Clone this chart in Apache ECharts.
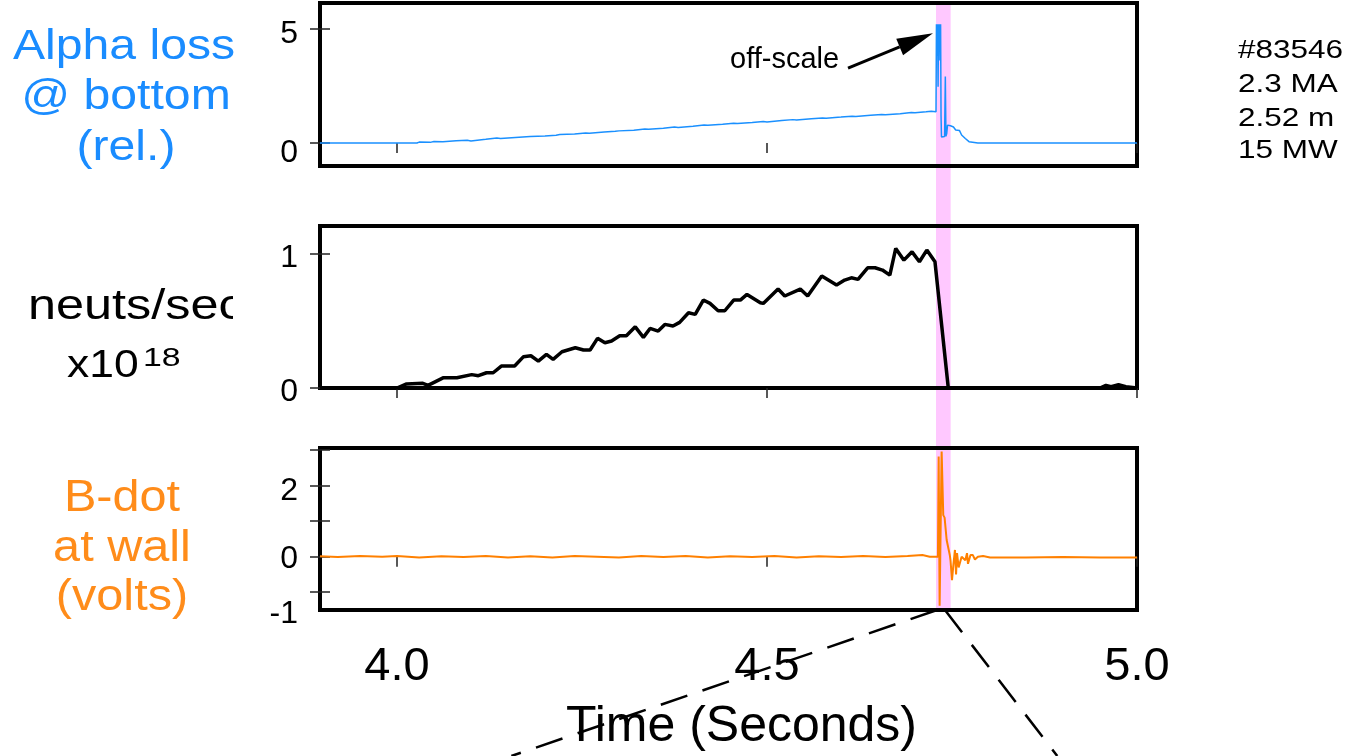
<!DOCTYPE html>
<html>
<head>
<meta charset="utf-8">
<script src="https://cdn.jsdelivr.net/npm/echarts@6/dist/echarts.min.js"></script>
<style>
  html, body { margin: 0; padding: 0; background: #fff; }
  #chart { width: 1361px; height: 756px; }
</style>
</head>
<body>
<div id="chart"></div>
<script>
// alpha loss at bottom (relative units), clipped at ~5.2 ("off-scale")
const alphaTime = [3.896, 4.000, 4.027, 4.030, 4.045, 4.050, 4.062, 4.080, 4.095, 4.100, 4.120, 4.135, 4.140,
  4.160, 4.175, 4.180, 4.200, 4.215, 4.220, 4.240, 4.255, 4.260, 4.280, 4.295, 4.300, 4.320, 4.335, 4.340,
  4.360, 4.375, 4.380, 4.400, 4.415, 4.420, 4.440, 4.455, 4.460, 4.480, 4.495, 4.500, 4.520, 4.535, 4.540,
  4.560, 4.575, 4.580, 4.600, 4.615, 4.620, 4.640, 4.655, 4.660, 4.680, 4.695, 4.700, 4.715, 4.722, 4.7284,
  4.7290, 4.7300, 4.7306, 4.7312, 4.7318, 4.7326, 4.7332, 4.7340, 4.7346, 4.7352, 4.7358, 4.7380, 4.7400,
  4.7410, 4.7418, 4.7428, 4.7440, 4.7480, 4.7520, 4.7550, 4.7600, 4.7630, 4.7680, 4.7730, 4.7850, 5.000];
const alphaLoss = [0, 0, 0, 0.04, 0.03, 0.07, 0.06, 0.10, 0.12, 0.09, 0.16, 0.22, 0.20,
  0.24, 0.27, 0.28, 0.31, 0.34, 0.37, 0.39, 0.44, 0.43, 0.48, 0.51, 0.53, 0.56, 0.61, 0.60,
  0.64, 0.70, 0.68, 0.73, 0.79, 0.77, 0.82, 0.86, 0.85, 0.90, 0.94, 0.92, 0.98, 1.02, 1.00,
  1.06, 1.09, 1.08, 1.13, 1.17, 1.16, 1.21, 1.24, 1.23, 1.28, 1.33, 1.32, 1.36, 1.38, 1.36,
  5.17, 3.80, 5.17, 2.45, 5.17, 3.60, 5.17, 4.30, 5.17, 1.20, 0.26, 0.30, 0.28,
  2.90, 0.30, 0.40, 0.78, 0.75, 0.70, 0.57, 0.55, 0.35, 0.20, 0.06, 0.00, 0.00];

// neutron rate, x10^18 per second
const neutTime = [3.896, 4.000, 4.013, 4.035, 4.042, 4.063, 4.081, 4.101, 4.110, 4.121, 4.130, 4.141, 4.159,
  4.171, 4.181, 4.191, 4.202, 4.211, 4.223, 4.241, 4.252, 4.261, 4.271, 4.281, 4.290, 4.301, 4.310, 4.322,
  4.333, 4.342, 4.353, 4.362, 4.373, 4.382, 4.394, 4.403, 4.414, 4.423, 4.434, 4.443, 4.455, 4.464, 4.473,
  4.491, 4.495, 4.515, 4.524, 4.545, 4.555, 4.574, 4.594, 4.605, 4.614, 4.623, 4.636, 4.646, 4.656, 4.666,
  4.674, 4.685, 4.696, 4.706, 4.716, 4.727, 4.745, 4.950, 4.958, 4.965, 4.975, 4.985, 5.000];
const neutRate = [0, 0, 0.030, 0.035, 0.020, 0.077, 0.077, 0.100, 0.092, 0.114, 0.114, 0.164, 0.164,
  0.234, 0.241, 0.201, 0.251, 0.214, 0.271, 0.301, 0.284, 0.284, 0.371, 0.338, 0.351, 0.390, 0.390, 0.457,
  0.378, 0.445, 0.425, 0.475, 0.463, 0.490, 0.562, 0.550, 0.657, 0.632, 0.577, 0.577, 0.657, 0.657, 0.699,
  0.637, 0.632, 0.739, 0.687, 0.739, 0.687, 0.836, 0.769, 0.806, 0.823, 0.811, 0.898, 0.898, 0.881, 0.843,
  1.042, 0.955, 1.017, 0.943, 1.030, 0.943, 0, 0, 0.020, 0.010, 0.025, 0.010, 0];

// B-dot at wall (volts)
const bdotTime = [3.896, 3.920, 3.950, 3.980, 4.000, 4.030, 4.060, 4.090, 4.120, 4.150, 4.180, 4.210, 4.240,
  4.270, 4.300, 4.330, 4.360, 4.390, 4.420, 4.450, 4.480, 4.510, 4.540, 4.570, 4.600, 4.630, 4.660, 4.690,
  4.710, 4.720, 4.7310, 4.7320, 4.7333, 4.7360, 4.7382, 4.7400, 4.7428, 4.7459, 4.7470, 4.7480, 4.7500,
  4.7520, 4.7540, 4.7555, 4.7568, 4.7590, 4.7608, 4.7630, 4.7649, 4.7680, 4.7703, 4.7716, 4.7750, 4.7780,
  4.7810, 4.7850, 4.7920, 4.8014, 4.850, 4.900, 4.950, 5.000];
const bdotVolts = [0.01, -0.01, 0.02, 0, 0.02, -0.02, 0.01, -0.01, 0.02, -0.02, 0.01, -0.02, 0.02,
  0, -0.02, 0.02, -0.01, 0.02, -0.02, 0.01, -0.01, 0.02, -0.02, 0.01, -0.01, 0.02, -0.01, 0.02,
  0.05, 0, 0, 2.82, -1.38, 2.96, 1.17, 1.10, 0.47, 0.16, 0.05, -0.10, -0.66,
  -0.20, 0.19, -0.50, 0.10, -0.30, -0.28, 0, 0.05, -0.10, 0.10, -0.20, 0.05, 0.05,
  -0.08, 0, 0.02, -0.02, -0.02, -0.01, -0.02, -0.02];

const timeTicks = [4.0, 4.5, 5.0];
const disruption = [4.7284, 4.7482];   // shaded interval
const shotInfo = ['#83546', '2.3 MA', '2.52 m', '15 MW'];

const FONT = "'Liberation Sans', Arial, sans-serif";
const zip = (a, b) => a.map((v, i) => [v, b[i]]);

const panels = [
  { top: 3,   height: 163, min: -1,  max: 6.1,  ticks: [0, 5],            labels: [5, 0],     shift: [6, 10] },
  { top: 226, height: 162, min: 0,   max: 1.21, ticks: [0, 1],            labels: [1, 0],     shift: [4, 4] },
  { top: 448, height: 162, min: -1.5, max: 3.06, ticks: [-1, 0, 1, 2, 3], labels: [2, 0, -1], shift: [6, 2, 22] }
];

const tickStyle = { color: '#222', width: 1.5 };

const grid = panels.map(p => ({
  left: 320, width: 817, top: p.top, height: p.height,
  show: true, borderColor: '#000', borderWidth: 4, backgroundColor: 'transparent'
}));

const xAxis = [];
const yAxis = [];
panels.forEach((p, gi) => {
  const last = gi === panels.length - 1;
  xAxis.push({
    type: 'value', gridIndex: gi, min: 3.896, max: 5.0,
    axisLine: { show: false }, splitLine: { show: false },
    axisTick: { show: true, inside: false, length: 8, customValues: timeTicks, lineStyle: tickStyle },
    axisLabel: last ? {
      show: true, customValues: timeTicks, margin: 34,
      fontFamily: FONT, fontSize: 47, color: '#000',
      formatter: v => v.toFixed(1)
    } : { show: false },
    name: last ? 'Time (Seconds)' : '',
    nameLocation: 'middle', nameGap: 92,
    nameTextStyle: { fontFamily: FONT, fontSize: 50, color: '#000', padding: [0, 0, 0, 26] }
  });
  xAxis.push({
    type: 'value', gridIndex: gi, min: 3.896, max: 5.0,
    axisLine: { show: false }, splitLine: { show: false }, axisLabel: { show: false },
    axisTick: { show: true, inside: true, length: 10, customValues: timeTicks, lineStyle: tickStyle }
  });

  const rich = {};
  p.shift.forEach(s => {
    rich['o' + s] = { fontFamily: FONT, fontSize: 32, color: '#000', padding: [s * 2, 0, 0, 0] };
  });
  yAxis.push({
    type: 'value', gridIndex: gi, min: p.min, max: p.max, position: 'left',
    axisLine: { show: false }, splitLine: { show: false },
    axisTick: { show: true, inside: false, length: 10, customValues: p.ticks, lineStyle: tickStyle },
    axisLabel: {
      show: true, customValues: p.labels, margin: 22,
      fontFamily: FONT, fontSize: 32, color: '#000',
      formatter: v => '{o' + p.shift[p.labels.indexOf(v)] + '|' + v + '}',
      rich: rich
    }
  });
  yAxis.push({
    type: 'value', gridIndex: gi, min: p.min, max: p.max, position: 'left',
    axisLine: { show: false }, splitLine: { show: false }, axisLabel: { show: false },
    axisTick: { show: true, inside: true, length: 10, customValues: p.ticks, lineStyle: tickStyle }
  });
});

const series = [
  {
    name: 'Alpha loss', type: 'line', xAxisIndex: 0, yAxisIndex: 0,
    data: zip(alphaTime, alphaLoss), showSymbol: false, z: 3,
    lineStyle: { color: '#1a90ff', width: 1.5 }
  },
  {
    name: 'Neutrons', type: 'line', xAxisIndex: 2, yAxisIndex: 2,
    data: zip(neutTime, neutRate), showSymbol: false, z: 3,
    lineStyle: { color: '#000', width: 3.5 }
  },
  {
    name: 'B-dot', type: 'line', xAxisIndex: 4, yAxisIndex: 4,
    data: zip(bdotTime, bdotVolts), showSymbol: false, z: 3,
    lineStyle: { color: '#ff8000', width: 2 }
  }
];

const chart = echarts.init(document.getElementById('chart'));
chart.setOption({
  animation: false,
  backgroundColor: '#fff',
  grid: grid, xAxis: xAxis, yAxis: yAxis, series: series
});

// overlays positioned through the axes
const px = (gi, t, v) => chart.convertToPixel({ gridIndex: gi }, [t, v]);

function text(str, x, y, size, color, align, sx) {
  return {
    type: 'text', x: x, y: y, scaleX: sx || 1, z: 20,
    style: { text: str, fill: color, font: size + 'px ' + FONT, align: align, verticalAlign: 'middle' }
  };
}

const g = [];
const bandTL = px(0, disruption[0], panels[0].max);
const bandBR = px(2, disruption[1], panels[2].min);
g.push({
  type: 'rect', z: -10, silent: true,
  shape: { x: bandTL[0], y: bandTL[1], width: bandBR[0] - bandTL[0], height: bandBR[1] - bandTL[1] },
  style: { fill: '#ffc8ff' }
});

// off-scale arrow
const aFrom = px(0, 4.6095, 3.26);
const aTip = px(0, 4.7243, 4.78);
const dx = aTip[0] - aFrom[0], dy = aTip[1] - aFrom[1];
const len = Math.hypot(dx, dy), ux = dx / len, uy = dy / len;
const headL = 36, headW = 9;
const base = [aTip[0] - ux * headL, aTip[1] - uy * headL];
g.push({ type: 'line', z: 20, shape: { x1: aFrom[0], y1: aFrom[1], x2: base[0], y2: base[1] },
  style: { stroke: '#000', lineWidth: 3 } });
g.push({ type: 'polygon', z: 20, shape: { points: [aTip,
  [base[0] - uy * headW, base[1] + ux * headW], [base[0] + uy * headW, base[1] - ux * headW]] },
  style: { fill: '#000' } });
g.push(text('off-scale', 730, 60, 29, '#000', 'left'));

// zoom-in lines below the disruption
const zl = px(2, 4.7298, panels[2].min);
const zr = px(2, 4.7405, panels[2].min);
g.push({ type: 'line', z: 20, shape: { x1: zl[0], y1: zl[1], x2: zl[0] - (756 - zl[1]) / 0.343, y2: 756 },
  style: { stroke: '#000', lineWidth: 2.5, lineDash: [28, 16] } });
g.push({ type: 'line', z: 20, shape: { x1: zr[0], y1: zr[1], x2: zr[0] + (756 - zr[1]) / 1.3, y2: 756 },
  style: { stroke: '#000', lineWidth: 2.5, lineDash: [28, 16] } });

// panel titles
const blue = '#1a8cff', orange = '#ff8c1a';
g.push(text('Alpha loss', 124, 47, 43, blue, 'center', 1.12));
g.push(text('@ bottom', 126, 97, 43, blue, 'center', 1.12));
g.push(text('(rel.)', 126, 148, 43, blue, 'center', 1.12));
g.push(text('neuts/sec', 28, 307, 42, '#000', 'left', 1.2));
g.push({ type: 'rect', z: 21, shape: { x: 233, y: 288, width: 30, height: 40 }, style: { fill: '#fff' } });
g.push(text('x10', 67, 366, 39, '#000', 'left', 1.14));
g.push(text('18', 143, 359, 26, '#000', 'left', 1.3));
g.push(text('B-dot', 122, 499, 45, orange, 'center', 1.08));
g.push(text('at wall', 122, 549, 45, orange, 'center', 1.08));
g.push(text('(volts)', 122, 598, 45, orange, 'center', 1.08));

// shot parameters
shotInfo.forEach((s, i) => g.push(text(s, 1238, [51, 85, 119, 151][i], 25, '#000', 'left', 1.26)));

chart.setOption({ graphic: g });
</script>
</body>
</html>
